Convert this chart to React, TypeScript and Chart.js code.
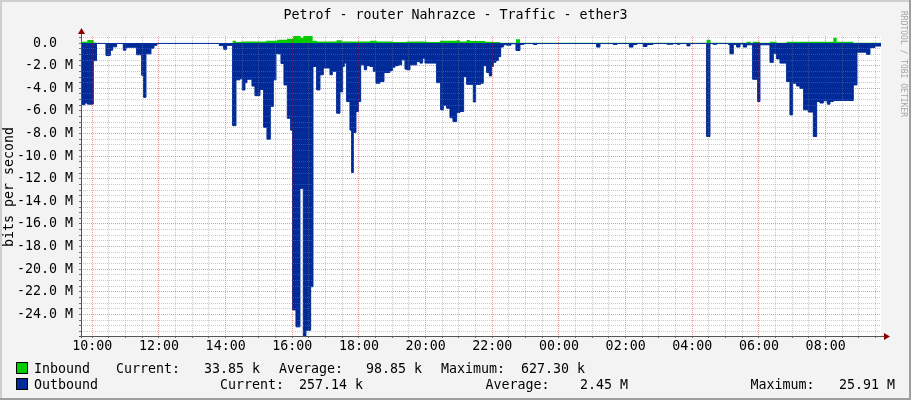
import React, { useEffect, useRef } from "react";
import { Chart, registerables } from "chart.js";

Chart.register(...registerables);

const TITLE = "Petrof - router Nahrazce - Traffic - ether3";
const Y_TITLE = "bits per second";
const WATERMARK = "RRDTOOL / TOBI OETIKER";

// time axis: hours of day (values past 24 are the next day)
const X_MIN = 9.661;
const X_MAX = 33.661;
const Y_MIN = -25.91;
const Y_MAX = 0.6273;

const X_TICK_HOURS = [10, 12, 14, 16, 18, 20, 22, 24, 26, 28, 30, 32];
const X_TICK_LABELS = ["10:00", "12:00", "14:00", "16:00", "18:00", "20:00", "22:00", "00:00", "02:00", "04:00", "06:00", "08:00"];
const X_MINOR_STEP = 0.5;

const Y_TICK_VALUES = [0, -2, -4, -6, -8, -10, -12, -14, -16, -18, -20, -22, -24];
const Y_TICK_LABELS = ["0.0  ", "-2.0 M", "-4.0 M", "-6.0 M", "-8.0 M", "-10.0 M", "-12.0 M", "-14.0 M", "-16.0 M", "-18.0 M", "-20.0 M", "-22.0 M", "-24.0 M"];
const Y_MINOR_STEP = 0.5;

// Outbound (Mbit/s, drawn negative) – step start times and values
const OUT_TIMES = [
  9.661, 9.78, 9.856, 10.03, 10.126, 10.41, 10.54, 10.61, 10.73, 10.93, 11.01, 11.33, 11.48, 11.54, 11.61, 11.76, 11.85, 11.94,
  13.81, 13.94, 14.03, 14.21, 14.31, 14.43, 14.5, 14.58, 14.64, 14.79, 14.88, 15.03, 15.14, 15.24, 15.34, 15.43, 15.51, 15.57,
  15.66, 15.75, 15.85, 15.95, 16.01, 16.11, 16.23, 16.33, 16.41, 16.55, 16.62, 16.73, 16.83, 16.93, 17.13, 17.2, 17.33, 17.43,
  17.51, 17.56, 17.63, 17.73, 17.78, 17.83, 17.91, 17.98, 18.05, 18.16, 18.23, 18.33, 18.43, 18.51, 18.63, 18.75, 18.93, 19.01,
  19.08, 19.18, 19.28, 19.38, 19.43, 19.53, 19.73, 19.83, 19.91, 19.98, 20.33, 20.45, 20.53, 20.63, 20.73, 20.82, 20.93, 21.03,
  21.14, 21.23, 21.43, 21.5, 21.65, 21.73, 21.83, 21.91, 21.98, 22.03, 22.11, 22.18, 22.25, 22.33, 22.44, 22.56, 22.71, 22.83,
  22.95, 23.23, 23.34, 25.13, 25.23, 25.63, 25.74, 26.11, 26.22, 26.34, 26.53, 26.64, 26.82, 27.24, 27.42, 27.54, 27.63, 27.84,
  27.93, 28.43, 28.53, 28.62, 28.74, 29.08, 29.13, 29.23, 29.33, 29.43, 29.53, 29.63, 29.81, 29.96, 30.03, 30.33, 30.43, 30.53,
  30.63, 30.83, 30.93, 31.01, 31.13, 31.23, 31.34, 31.48, 31.63, 31.73, 31.83, 31.93, 32.05, 32.13, 32.23, 32.83, 32.94, 33.23,
  33.33, 33.48, 33.661,
];
const OUT_VALUES = [
  -5.45, -5.3, -5.4, -1.55, -0.03, -1.1, -0.63, -0.33, -0.03, -0.63, -0.37, -1.03, -2.85, -4.8, -0.95, -0.45, -0.2, -0.03,
  -0.22, -0.55, -0.2, -7.3, -3.25, -3.15, -4.15, -3.5, -3.2, -3.8, -4.65, -4.1, -7.45, -8.5, -5.6, -3.25, -0.9, -0.95,
  -1.8, -3.7, -6.65, -7.7, -23.6, -25.1, -12.85, -25.91, -25.4, -21.55, -2.07, -4.14, -2.8, -2.2, -2.8, -2.5, -6.2, -4.3,
  -2.07, -1.77, -5.17, -7.7, -11.45, -7.9, -6.05, -5.17, -1.92, -2.36, -2.0, -2.07, -2.5, -3.55, -3.4, -2.6, -2.43, -2.13,
  -2.0, -1.92, -1.48, -2.3, -2.36, -1.92, -1.63, -1.77, -1.33, -1.77, -3.5, -5.9, -5.5, -5.76, -6.6, -6.94, -6.15, -6.05,
  -2.96, -3.65, -5.2, -3.65, -3.55, -2.0, -2.6, -2.9, -2.07, -1.7, -1.54, -1.2, -0.35, -0.15, -0.18, -0.06, -0.65, -0.12,
  -0.04, -0.12, -0.04, -0.35, -0.04, -0.12, -0.04, -0.35, -0.12, -0.04, -0.3, -0.12, -0.04, -0.1, -0.04, -0.1, -0.04, -0.25,
  -0.04, -8.27, -0.04, -0.1, -0.04, -0.12, -0.95, -0.12, -0.35, -0.08, -0.35, -0.15, -3.2, -5.17, -0.15, -1.7, -0.9, -1.4,
  -1.77, -3.4, -6.35, -3.55, -3.8, -4.0, -5.9, -6.1, -8.27, -5.17, -5.3, -5.1, -5.4, -5.17, -5.08, -3.7, -0.8, -1.0,
  -0.4, -0.26, -0.26,
];

// Inbound (Mbit/s) – step start times and values
const IN_TIMES = [
  9.661, 9.85, 10.04, 10.126, 14.21, 14.31, 14.46, 15.22, 15.55, 15.84, 16.03, 16.25, 16.33, 16.61, 16.73, 17.33, 17.48, 18.33,
  18.53, 19.02, 19.43, 20.03, 20.43, 20.93, 21.03, 21.23, 21.33, 21.78, 22.03, 22.23, 22.71, 22.83, 28.43, 28.55, 29.63, 29.75,
  29.82, 30.03, 30.33, 30.53, 30.83, 32.23, 32.33, 32.83, 33.661,
];
const IN_VALUES = [
  0.12, 0.27, 0.06, 0.01, 0.2, 0.1, 0.13, 0.2, 0.3, 0.38, 0.65, 0.47, 0.627, 0.2, 0.13, 0.25, 0.13, 0.2,
  0.13, 0.1, 0.13, 0.1, 0.2, 0.25, 0.15, 0.27, 0.18, 0.12, 0.1, 0.03, 0.35, 0.02, 0.3, 0.02, 0.12, 0.03,
  0.12, 0.03, 0.12, 0.03, 0.12, 0.47, 0.12, 0.02, 0.034,
];

const IN_COLOR = "#00CC00";
const OUT_COLOR = "#002A97";

const LEGEND_NAMES = ["Inbound", "Outbound"];
const LEGEND_COLORS = [IN_COLOR, OUT_COLOR];
const LEGEND_CURRENT = ["33.85 k", "257.14 k"];
const LEGEND_AVERAGE = ["98.85 k", "2.45 M"];
const LEGEND_MAXIMUM = ["627.30 k", "25.91 M"];

const FONT = '"DejaVu Sans Mono", monospace';
const FS = 13.3;

const rrdPlugin = {
  id: "rrdDecor",
  beforeDraw(chart: any) {
    const { ctx, chartArea } = chart;
    const W = chart.width;
    const H = chart.height;
    ctx.save();
    ctx.fillStyle = "#F3F3F3";
    ctx.fillRect(0, 0, W, H);
    // shaded frame
    ctx.fillStyle = "#CFCFCF";
    ctx.fillRect(0, 0, W, 2);
    ctx.fillRect(0, 0, 2, H);
    ctx.fillStyle = "#9E9E9E";
    ctx.fillRect(0, H - 2, W, 2);
    ctx.fillRect(W - 2, 0, 2, H);
    // canvas
    ctx.fillStyle = "#FFFFFF";
    ctx.fillRect(chartArea.left, chartArea.top, chartArea.right - chartArea.left, chartArea.bottom - chartArea.top);
    ctx.restore();
  },
  afterDraw(chart: any) {
    const { ctx, chartArea } = chart;
    const L = chartArea.left;
    const B = chartArea.bottom;
    const R = chartArea.right;
    ctx.save();
    // axes
    ctx.strokeStyle = "#555555";
    ctx.lineWidth = 1;
    ctx.beginPath();
    ctx.moveTo(L + 0.5, B + 2);
    ctx.lineTo(L + 0.5, chartArea.top - 5);
    ctx.moveTo(L - 2, B + 0.5);
    ctx.lineTo(R + 4, B + 0.5);
    ctx.stroke();
    // arrows
    ctx.fillStyle = "#8B0000";
    ctx.beginPath();
    ctx.moveTo(L + 0.5, chartArea.top - 8);
    ctx.lineTo(L - 3, chartArea.top - 2);
    ctx.lineTo(L + 4, chartArea.top - 2);
    ctx.closePath();
    ctx.fill();
    ctx.beginPath();
    ctx.moveTo(R + 9, B + 0.5);
    ctx.lineTo(R + 3, B - 3);
    ctx.lineTo(R + 3, B + 4);
    ctx.closePath();
    ctx.fill();

    // title
    ctx.fillStyle = "#000000";
    ctx.font = `${FS}px ${FONT}`;
    ctx.textAlign = "center";
    ctx.textBaseline = "alphabetic";
    ctx.fillText(TITLE, 455.5, 19);

    // y axis title
    ctx.save();
    ctx.translate(10, 187);
    ctx.rotate(-Math.PI / 2);
    ctx.textBaseline = "middle";
    ctx.fillText(Y_TITLE, 0, 0);
    ctx.restore();

    // watermark
    ctx.save();
    ctx.translate(903, 11);
    ctx.rotate(Math.PI / 2);
    ctx.font = `8px ${FONT}`;
    ctx.fillStyle = "#A6A6A6";
    ctx.textAlign = "left";
    ctx.textBaseline = "middle";
    ctx.fillText(WATERMARK, 0, 0);
    ctx.restore();

    // legend
    const rows = [373, 389];
    const curLabelX = [116, 220];
    const curValX = [204, 299];
    const avgLabelX = [279, 485.5];
    const avgValX = [366, 580];
    const maxLabelX = [441, 750.5];
    const maxValX = [521, 839];
    ctx.font = `${FS}px ${FONT}`;
    ctx.textAlign = "left";
    ctx.textBaseline = "alphabetic";
    for (let i = 0; i < LEGEND_NAMES.length; i++) {
      const by = rows[i];
      ctx.fillStyle = LEGEND_COLORS[i];
      ctx.fillRect(17, by - 10, 10, 10);
      ctx.strokeStyle = "#000000";
      ctx.lineWidth = 1;
      ctx.strokeRect(16.5, by - 10.5, 11, 11);
      ctx.fillStyle = "#000000";
      ctx.fillText(LEGEND_NAMES[i], 34, by);
      ctx.fillText("Current:", curLabelX[i], by);
      ctx.fillText(LEGEND_CURRENT[i], curValX[i], by);
      ctx.fillText("Average:", avgLabelX[i], by);
      ctx.fillText(LEGEND_AVERAGE[i], avgValX[i], by);
      ctx.fillText("Maximum:", maxLabelX[i], by);
      ctx.fillText(LEGEND_MAXIMUM[i], maxValX[i], by);
    }
    ctx.restore();
  },
};

const MAJOR = "rgba(230,0,0,0.42)";
const MINOR = "rgba(128,128,128,0.42)";

export default function App() {
  const ref = useRef<HTMLCanvasElement | null>(null);

  useEffect(() => {
    document.body.style.margin = "0";
    const canvas = ref.current;
    if (!canvas) return;

    const outData = OUT_TIMES.map((t, i) => ({ x: t, y: OUT_VALUES[i] }));
    const inData = IN_TIMES.map((t, i) => ({ x: t, y: IN_VALUES[i] }));

    const chart = new Chart(canvas, {
      type: "line",
      data: {
        datasets: [
          {
            label: "Outbound",
            data: outData,
            stepped: "before",
            fill: "origin",
            backgroundColor: OUT_COLOR,
            borderColor: OUT_COLOR,
            borderWidth: 1,
            pointRadius: 0,
            tension: 0,
          },
          {
            label: "Inbound",
            data: inData,
            stepped: "before",
            fill: "origin",
            backgroundColor: IN_COLOR,
            borderColor: "rgba(0,0,0,0)",
            borderWidth: 0,
            pointRadius: 0,
            tension: 0,
          },
        ],
      },
      options: {
        responsive: false,
        animation: false,
        devicePixelRatio: 1,
        events: [],
        layout: { padding: { left: 0, right: 30, top: 36, bottom: 0 } },
        plugins: {
          legend: { display: false },
          tooltip: { enabled: false },
          title: { display: false },
        },
        scales: {
          x: {
            type: "linear",
            min: X_MIN,
            max: X_MAX,
            afterFit: (s: any) => {
              s.height = 64;
            },
            afterBuildTicks: (s: any) => {
              const ticks = [];
              for (let k = 1; 10 - X_MINOR_STEP + k * X_MINOR_STEP < X_MAX; k++) {
                ticks.push({ value: 10 - X_MINOR_STEP + k * X_MINOR_STEP });
              }
              s.ticks = ticks;
            },
            ticks: {
              autoSkip: false,
              maxRotation: 0,
              minRotation: 0,
              padding: 1,
              color: "#000000",
              font: { family: FONT, size: FS },
              callback: (v: any) => {
                const i = X_TICK_HOURS.indexOf(Number(v));
                return i >= 0 ? X_TICK_LABELS[i] : "";
              },
            },
            grid: {
              z: 1,
              drawTicks: true,
              tickLength: 2,
              tickColor: "rgba(80,80,80,0.8)",
              tickBorderDash: [],
              lineWidth: 1,
              color: (c: any) => (X_TICK_HOURS.indexOf(c.tick && c.tick.value) >= 0 ? MAJOR : MINOR),
            },
            border: { display: false, dash: [1, 1] },
          },
          y: {
            type: "linear",
            min: Y_MIN,
            max: Y_MAX,
            afterFit: (s: any) => {
              s.width = 81;
            },
            afterBuildTicks: (s: any) => {
              const ticks = [];
              for (let k = 0; -k * Y_MINOR_STEP + 0.5 > Y_MIN; k++) {
                ticks.push({ value: 0.5 - k * Y_MINOR_STEP });
              }
              s.ticks = ticks;
            },
            ticks: {
              autoSkip: false,
              padding: 6,
              color: "#000000",
              font: { family: FONT, size: FS },
              callback: (v: any) => {
                const i = Y_TICK_VALUES.indexOf(Number(v));
                return i >= 0 ? Y_TICK_LABELS[i] : "";
              },
            },
            grid: {
              z: 1,
              drawTicks: true,
              tickLength: 2,
              tickColor: "rgba(80,80,80,0.8)",
              tickBorderDash: [],
              lineWidth: 1,
              color: (c: any) => (Y_TICK_VALUES.indexOf(c.tick && c.tick.value) >= 0 ? MAJOR : MINOR),
            },
            border: { display: false, dash: [1, 1] },
          },
        },
      },
      plugins: [rrdPlugin],
    } as any);

    return () => {
      chart.destroy();
    };
  }, []);

  return (
    <div style={{ width: 911, height: 400 }}>
      <canvas ref={ref} width={911} height={400} style={{ display: "block", width: 911, height: 400 }} />
    </div>
  );
}
